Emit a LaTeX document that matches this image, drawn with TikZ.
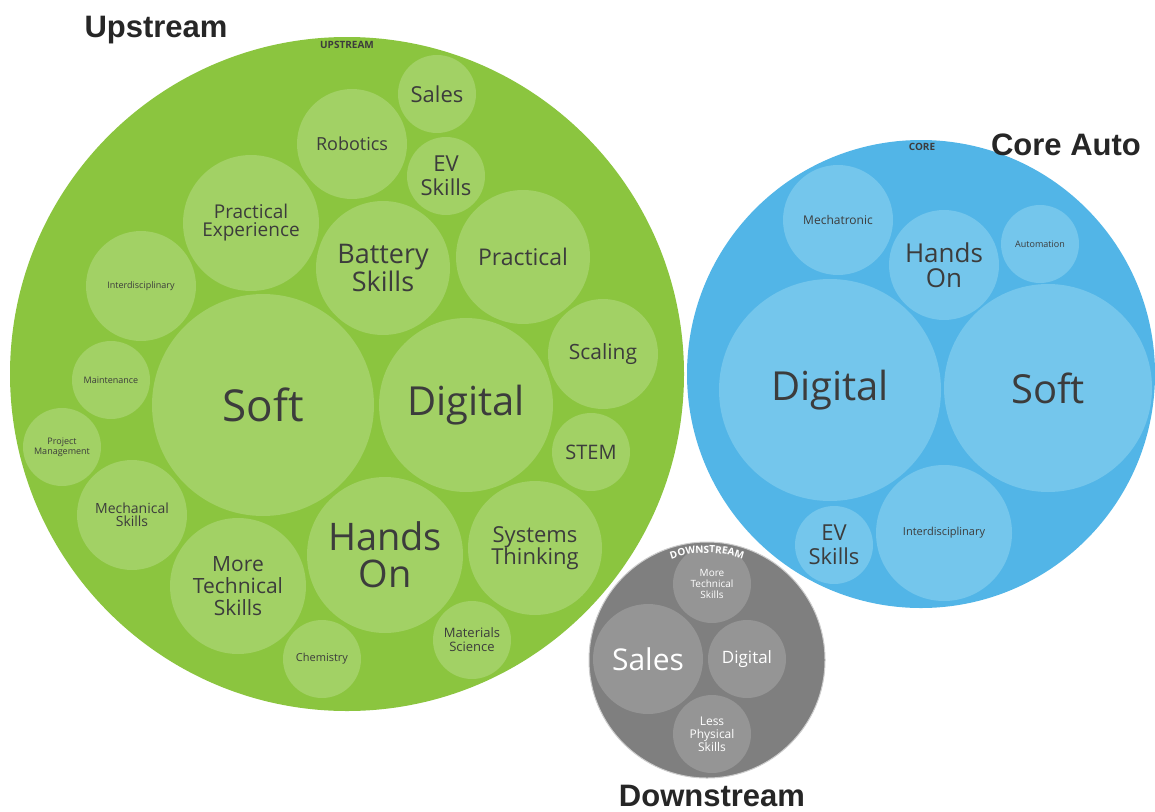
\documentclass[tikz,border=0pt]{standalone}
\usepackage{fontspec}
\setmainfont{Open Sans}
\newfontfamily\titlefont{Liberation Sans}
\usetikzlibrary{decorations.text}
\definecolor{gOut}{HTML}{8BC53F}
\definecolor{gIn}{HTML}{A2D165}
\definecolor{bOut}{HTML}{52B5E7}
\definecolor{bIn}{HTML}{74C6EC}
\definecolor{dOut}{HTML}{7F7F7F}
\definecolor{dIn}{HTML}{959595}
\definecolor{txt}{HTML}{3C3C3C}
\newcommand{\fs}[2]{\fontsize{#1}{#2}\selectfont}
\tikzset{
  bubble/.style={circle, inner sep=0pt, align=center, text=txt},
  gouter/.style={bubble, fill=gOut},
  ginner/.style={bubble, fill=gIn},
  bouter/.style={bubble, fill=bOut},
  binner/.style={bubble, fill=bIn},
  douter/.style={bubble, fill=dOut, draw=black!20, line width=1pt},
  dinner/.style={bubble, fill=dIn, text=white},
  title/.style={font=\titlefont\bfseries\fs{31}{31}, text=black!85, anchor=base, inner sep=0pt},
  grouplabel/.style={font=\bfseries\fs{10}{10}, text=txt}
}
\begin{document}
\begin{tikzpicture}[x=1pt,y=1pt]
\useasboundingbox (0,0) rectangle (1155,-811);
% outer circles
\node[gouter, minimum size=674] (up) at (347,-374) {};
\node[bouter, minimum size=468] (core) at (921,-374) {};
\node[douter, minimum size=236] (down) at (707,-660) {};
% group labels
\node[grouplabel] (uplab) at (347,-45) {UPSTREAM};
\node[grouplabel] (corelab) at (922,-147) {CORE};
% green bubbles
\node[ginner, minimum size=222, font=\fs{44}{44}] (gsoft) at (263,-405) {Soft};
\node[ginner, minimum size=174, font=\fs{40}{40}] (gdigital) at (466,-405) {Digital};
\node[ginner, minimum size=156, font=\fs{38}{37}] (ghands) at (385,-555) {Hands\\On};
\node[ginner, minimum size=134, font=\fs{27}{26}] (gbattery) at (383,-268) {Battery\\Skills};
\node[ginner, minimum size=134, font=\fs{23}{23}] (gpractical) at (523,-257) {Practical};
\node[ginner, minimum size=136, font=\fs{19}{18}] (gpracexp) at (251,-223) {Practical\\Experience};
\node[ginner, minimum size=110, font=\fs{18}{18}] (grobotics) at (352,-144) {Robotics};
\node[ginner, minimum size=78, font=\fs{22}{22}] (gsales) at (437,-94) {Sales};
\node[ginner, minimum size=78, font=\fs{22}{24}] (gev) at (446,-176) {EV\\Skills};
\node[ginner, minimum size=110, font=\fs{9}{9}] (ginter) at (141,-286) {Interdisciplinary};
\node[ginner, minimum size=78, font=\fs{9}{9}] (gmaint) at (111,-380) {Maintenance};
\node[ginner, minimum size=78, font=\fs{9}{10}] (gproj) at (62,-447) {Project\\Management};
\node[ginner, minimum size=110, font=\fs{14}{13}] (gmech) at (132,-515) {Mechanical\\Skills};
\node[ginner, minimum size=136, font=\fs{21}{22}] (gmore) at (238,-586) {More\\Technical\\Skills};
\node[ginner, minimum size=78, font=\fs{11}{11}] (gchem) at (322,-659) {Chemistry};
\node[ginner, minimum size=78, font=\fs{13}{14}] (gmat) at (472,-640) {Materials\\Science};
\node[ginner, minimum size=134, font=\fs{22}{22}] (gsys) at (535,-548) {Systems\\Thinking};
\node[ginner, minimum size=78, font=\fs{20}{20}] (gstem) at (591,-452) {STEM};
\node[ginner, minimum size=110, font=\fs{21}{21}] (gscaling) at (603,-354) {Scaling};
% blue bubbles
\node[binner, minimum size=222, font=\fs{40}{40}] (bdigital) at (830,-390) {Digital};
\node[binner, minimum size=208, font=\fs{40}{40}] (bsoft) at (1048,-388) {Soft};
\node[binner, minimum size=110, font=\fs{26}{25}] (bhands) at (944,-265) {Hands\\On};
\node[binner, minimum size=110, font=\fs{12}{12}] (bmech) at (838,-220) {Mechatronic};
\node[binner, minimum size=78, font=\fs{9}{9}] (bauto) at (1040,-244) {Automation};
\node[binner, minimum size=78, font=\fs{22}{24}] (bev) at (834,-545) {EV\\Skills};
\node[binner, minimum size=136, font=\fs{11}{11}] (binter) at (944,-533) {Interdisciplinary};
% gray bubbles
\node[dinner, minimum size=78, font=\fs{10}{11}] (dmore) at (712,-584) {More\\Technical\\Skills};
\node[dinner, minimum size=110, font=\fs{30}{30}] (dsales) at (648,-659) {Sales};
\node[dinner, minimum size=78, font=\fs{17}{17}] (ddigital) at (747,-659) {Digital};
\node[dinner, minimum size=78, font=\fs{12}{13}] (dless) at (712,-734) {Less\\Physical\\Skills};
% curved DOWNSTREAM label
\path[decorate, decoration={text along path, text align=center,
  text={|\bfseries\fs{10}{10}\color{white}|DOWNSTREAM}}]
  ([shift={(135:107)}]down.center) arc[start angle=135, end angle=45, radius=107];
% titles
\node[title] (uptitle) at (156,-37) {Upstream};
\node[title] (coretitle) at (1066,-155) {Core Auto};
\node[title] (downtitle) at (712,-806) {Downstream};
\end{tikzpicture}
\end{document}
